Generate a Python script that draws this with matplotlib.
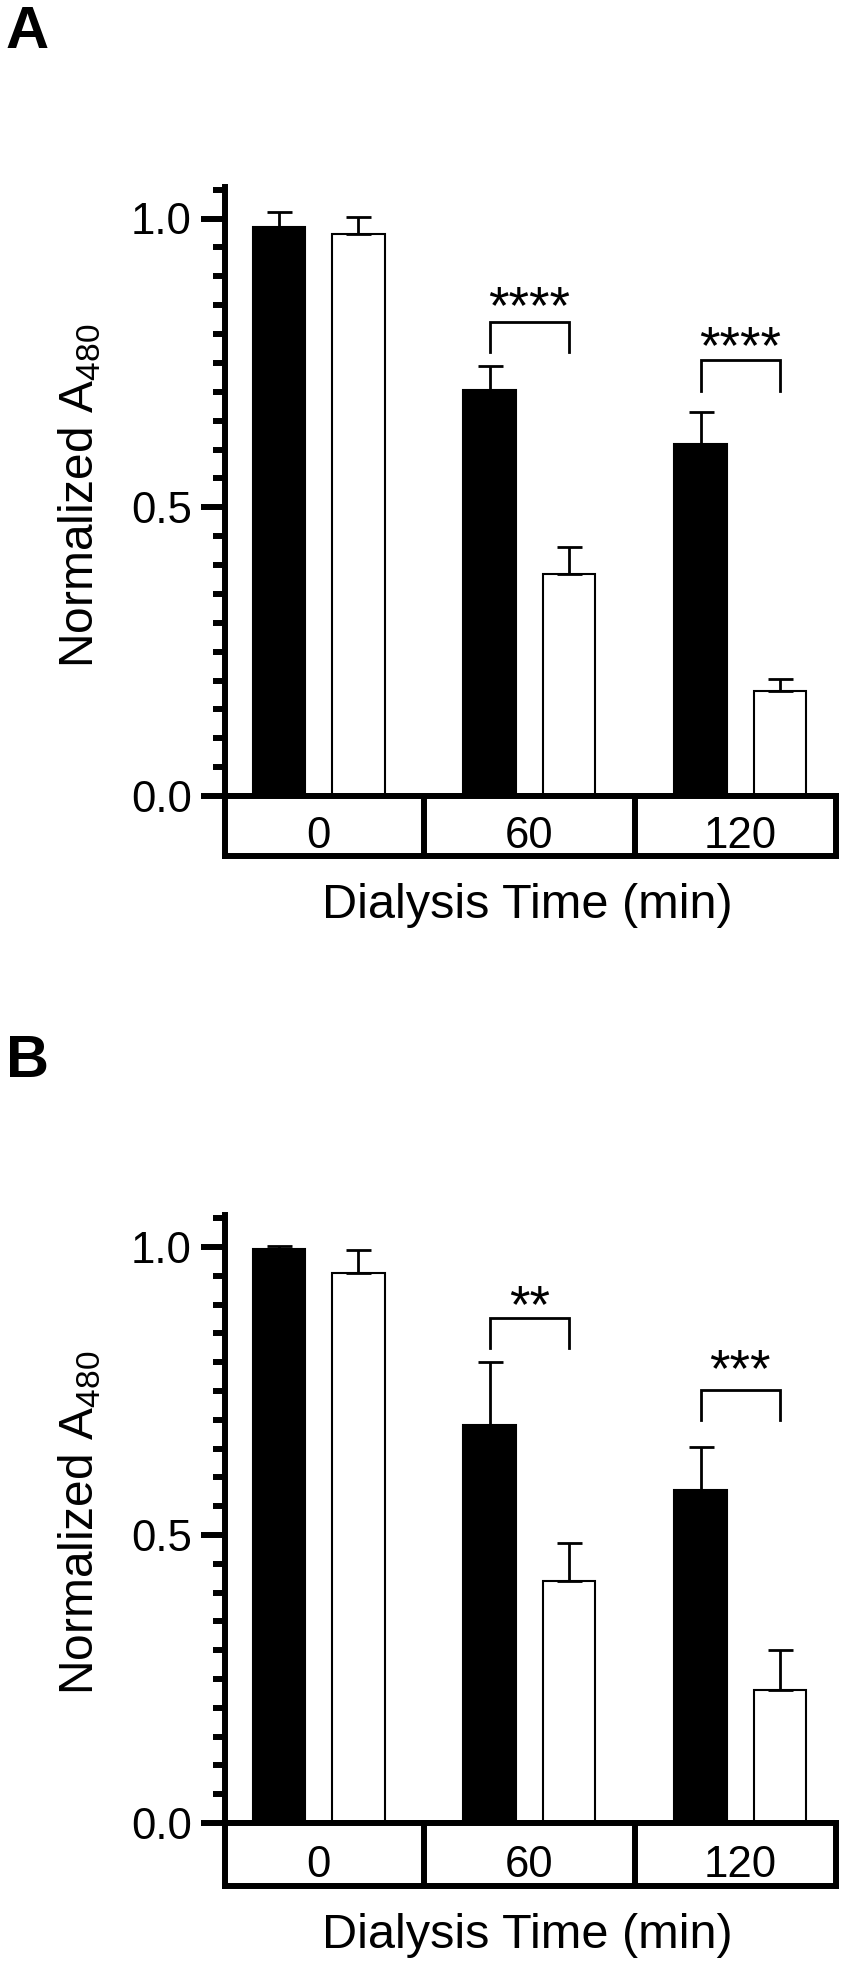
#!/usr/bin/env python3
import matplotlib
matplotlib.use('Agg')
import matplotlib.pyplot as plt
from matplotlib.ticker import MultipleLocator, FixedLocator
from matplotlib import transforms

# Data
groups = ['0', '60', '120']

a_black = [0.986, 0.703, 0.610]
a_black_err = [0.025, 0.042, 0.055]
a_white = [0.973, 0.384, 0.182]
a_white_err = [0.030, 0.047, 0.021]
a_stars = ['', '****', '****']

b_black = [0.997, 0.691, 0.578]
b_black_err = [0.005, 0.109, 0.075]
b_white = [0.955, 0.420, 0.231]
b_white_err = [0.040, 0.066, 0.069]
b_stars = ['', '**', '***']

plt.rcParams['font.family'] = ['Liberation Sans', 'DejaVu Sans']
plt.rcParams['mathtext.default'] = 'regular'

W, H = 844, 1966
fig = plt.figure(figsize=(W / 100, H / 100), dpi=100)

LW = 4.3       # heavy axis lines
X0, X1 = 224.5, 836


def rect(left, top, right, bottom):
    return [left / W, 1 - bottom / H, (right - left) / W, (bottom - top) / H]


def panel(letter, letter_y, zero_y, unit, box_bottom, black, black_err,
          white, white_err, stars, brackets, xlabel_y):
    ytop = 1.055
    ax = fig.add_axes(rect(X0, zero_y - ytop * unit, X1, zero_y))
    x = list(range(len(groups)))
    off, width = 0.188, 0.25

    ax.bar([i - off for i in x], black, width, color='black', edgecolor='black',
           linewidth=1.5, yerr=[[0] * 3, black_err], capsize=9,
           error_kw=dict(elinewidth=2, capthick=2, ecolor='black'))
    ax.bar([i + off for i in x], white, width, color='white', edgecolor='black',
           linewidth=1.5, yerr=[[0] * 3, white_err], capsize=9,
           error_kw=dict(elinewidth=2, capthick=2, ecolor='black'))

    # significance brackets
    for i, s in enumerate(stars):
        if not s:
            continue
        top, leg, star_y = brackets[i]
        ax.plot([i - off, i - off, i + off, i + off], [leg, top, top, leg],
                color='black', lw=2, solid_joinstyle='miter')
        tr = transforms.offset_copy(ax.transData, fig=fig, x=0, y=-17, units='points')
        ax.text(i, star_y, s, ha='center', va='baseline', fontsize=38,
                transform=tr)

    ax.set_xlim(-0.446, 2.454)
    ax.set_ylim(0, ytop)
    ax.spines['top'].set_visible(False)
    ax.spines['right'].set_visible(False)
    ax.spines['left'].set_linewidth(LW)
    ax.spines['bottom'].set_linewidth(LW)
    ax.set_xticks([])
    ax.yaxis.set_major_locator(FixedLocator([0, 0.5, 1.0]))
    ax.set_yticklabels(['0.0', '0.5', '1.0'])
    ax.yaxis.set_minor_locator(MultipleLocator(0.05))
    ax.tick_params(axis='y', which='major', length=17.6, width=LW, labelsize=31.5, pad=6)
    ax.tick_params(axis='y', which='minor', length=8.5, width=LW)

    # category box under the axis
    bx = fig.add_axes(rect(X0, zero_y, X1, box_bottom))
    bx.set_xlim(-0.446, 2.454)
    bx.set_ylim(0, 1)
    for sp in bx.spines.values():
        sp.set_linewidth(LW)
    bx.set_xticks([])
    bx.set_yticks([])
    for d in [0.5, 1.5]:
        bx.axvline(d, color='black', lw=LW)
    for i, g in enumerate(groups):
        bx.text(i, 0.14, g, ha='center', va='baseline', fontsize=31.5)

    fig.text(527 / W, 1 - xlabel_y / H, 'Dialysis Time (min)', ha='center',
             va='center', fontsize=35)
    fig.text(80 / W, 1 - (zero_y - 300) / H, 'Normalized A$_{480}$', rotation=90,
             ha='center', va='center', fontsize=34.5)
    fig.text(6 / W, 1 - letter_y / H, letter, ha='left', va='baseline',
             fontsize=43, fontweight='bold')


panel('A', 48, 796, 577.5, 856, a_black, a_black_err, a_white, a_white_err,
      a_stars, {1: (0.82, 0.768, 0.859), 2: (0.755, 0.702, 0.79)}, 905)
panel('B', 1077, 1823, 576, 1886, b_black, b_black_err, b_white, b_white_err,
      b_stars, {1: (0.877, 0.825, 0.911), 2: (0.752, 0.70, 0.799)}, 1935)

fig.savefig('out.png', dpi=100)
